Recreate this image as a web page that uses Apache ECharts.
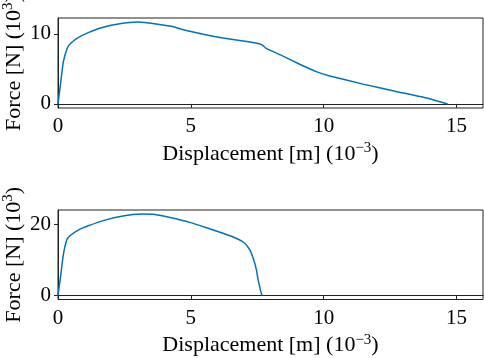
<!DOCTYPE html>
<html>
<head>
<meta charset="utf-8">
<script src="https://cdn.jsdelivr.net/npm/echarts@6/dist/echarts.min.js"></script>
<style>html,body{margin:0;padding:0;background:#fff}#c{width:484px;height:358px}</style>
</head>
<body>
<div id="c"></div>
<script>
// Top panel: displacement (10^-3 m) vs force (10^3 N)
var disp1 = [0, 0.1, 0.2, 0.36, 0.51, 0.76, 1.14, 1.64, 2.27, 3.02, 3.64, 4.26, 4.5, 4.65, 5.09, 5.46, 6.21, 6.97, 7.53, 7.7, 7.84, 8.47, 9.1, 9.72, 10.23, 11.48, 12.73, 13.98, 14.67];
var force1 = [0, 3.0, 6.0, 8.07, 8.78, 9.49, 10.2, 10.9, 11.42, 11.7, 11.47, 11.09, 10.85, 10.67, 10.28, 9.96, 9.43, 9.0, 8.64, 8.4, 7.93, 6.84, 5.67, 4.62, 4.0, 2.83, 1.78, 0.75, 0];
// Bottom panel
var disp2 = [0, 0.1, 0.2, 0.33, 0.45, 0.76, 1.14, 1.77, 2.39, 3.15, 3.65, 4.27, 4.96, 5.59, 6.21, 6.71, 7.03, 7.22, 7.37, 7.47, 7.53, 7.56, 7.62, 7.68];
var force2 = [0, 5.5, 11.4, 15.6, 16.8, 18.4, 19.6, 21.2, 22.3, 22.9, 22.8, 21.85, 20.56, 19.05, 17.5, 16.1, 14.7, 12.8, 10.0, 7.2, 4.5, 3.5, 1.5, 0];
var xTicks = [0, 5, 10, 15];
var yTicks1 = [0, 10];
var yTicks2 = [0, 20];

function pairs(xs, ys) { return xs.map(function (x, i) { return [x, ys[i]]; }); }

var FONT = 'Liberation Serif';
var lineCol = '#222';
var rich = {
  a: { fontFamily: FONT, fontSize: 22, color: '#000', lineHeight: 26 },
  s: { fontFamily: FONT, fontSize: 15, color: '#000', lineHeight: 26, verticalAlign: 'top', padding: [0, 0, 10, 0] }
};

function xAxis(gi) {
  return {
    type: 'value', gridIndex: gi, min: 0, max: 16,
    name: '{a|Displacement [m] (10}{s|\u22123}{a|)}',
    nameLocation: 'middle', nameGap: 33,
    nameTextStyle: { rich: rich },
    axisLine: { show: true, lineStyle: { color: lineCol, width: 1 } },
    axisTick: { show: true, length: 4, customValues: xTicks, lineStyle: { color: lineCol } },
    axisLabel: { customValues: xTicks, fontFamily: FONT, fontSize: 21, color: '#000', margin: 8 },
    splitLine: { show: false }
  };
}
function yAxis(gi, mn, mx, ticks) {
  return {
    type: 'value', gridIndex: gi, min: mn, max: mx,
    name: '{a|Force [N] (10}{s|3}{a|)}',
    nameLocation: 'middle', nameGap: 31, nameRotate: 90, nameMoveOverlap: false,
    nameTextStyle: { rich: rich },
    axisLine: { show: true, lineStyle: { color: lineCol, width: 1 } },
    axisTick: { show: true, length: 4, customValues: ticks, lineStyle: { color: lineCol } },
    axisLabel: { customValues: ticks, fontFamily: FONT, fontSize: 21, color: '#000', margin: 7 },
    splitLine: { show: false }
  };
}

var chart = echarts.init(document.getElementById('c'), null, { renderer: 'canvas' });
chart.setOption({
  animation: false,
  backgroundColor: '#fff',
  grid: [
    { left: 58, top: 18, width: 425, height: 90, show: true, borderColor: lineCol, borderWidth: 1, containLabel: false, outerBoundsMode: 'none' },
    { left: 58, top: 210, width: 425, height: 89.5, show: true, borderColor: lineCol, borderWidth: 1, containLabel: false, outerBoundsMode: 'none' }
  ],
  xAxis: [xAxis(0), xAxis(1)],
  yAxis: [yAxis(0, -0.585, 12.285, yTicks1), yAxis(1, -1.145, 24.045, yTicks2)],
  series: [
    { type: 'line', xAxisIndex: 0, yAxisIndex: 0, data: pairs(disp1, force1), showSymbol: false, smooth: 0.15,
      lineStyle: { color: '#0072bd', width: 1.5 } },
    { type: 'line', xAxisIndex: 1, yAxisIndex: 1, data: pairs(disp2, force2), showSymbol: false, smooth: 0.15,
      lineStyle: { color: '#0072bd', width: 1.5 } }
  ]
});
</script>
</body>
</html>
